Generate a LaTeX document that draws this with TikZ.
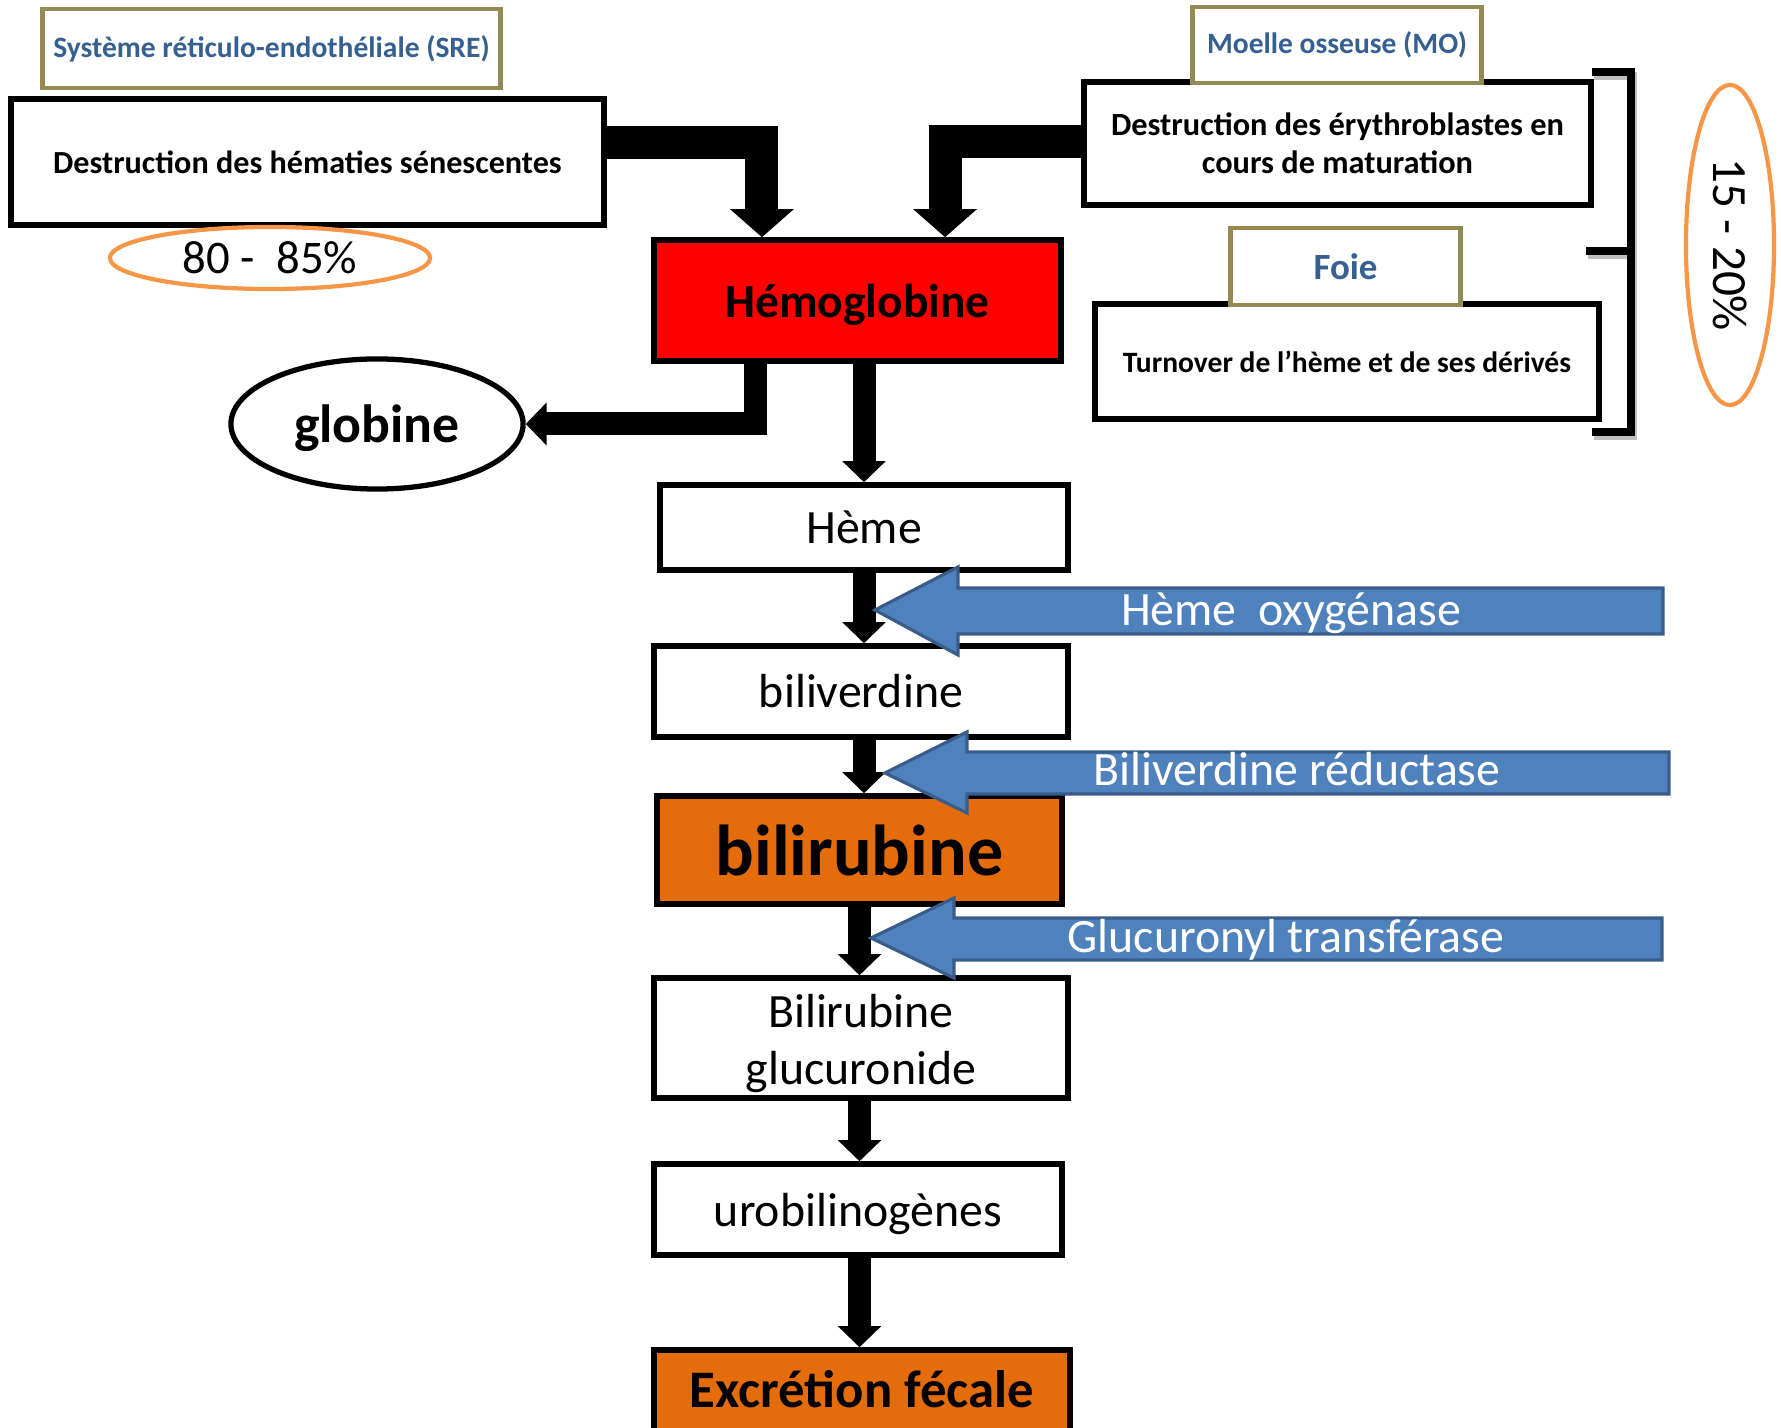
\documentclass[tikz,border=0pt]{standalone}
\usepackage{fontspec}
\setmainfont{Carlito}
\usetikzlibrary{arrows.meta,shapes.geometric}
\definecolor{srccol}{HTML}{948A54}
\definecolor{txtblue}{HTML}{376092}
\definecolor{ellorange}{HTML}{F79646}
\definecolor{boxorange}{HTML}{E46C0A}
\definecolor{enzfill}{HTML}{4F81BD}
\definecolor{enzdraw}{HTML}{385D8A}
\newcommand\chainfont{\fontsize{13.6}{16.4}\selectfont}
\begin{document}
\begin{tikzpicture}[x=0.01cm,y=-0.01cm,
  box/.style={draw=black, line width=1.55pt, fill=white, inner sep=0pt, align=center},
  srcbox/.style={draw=srccol, line width=1.4pt, fill=white, inner sep=0pt, text=txtblue, font=\bfseries\fontsize{8.4}{10}\selectfont},
  pctell/.style={draw=ellorange, line width=1.2pt, ellipse, inner sep=0pt, font=\fontsize{13.3}{16}\selectfont},
  fatarrow/.style={line width=3.3mm, line join=miter, -{Triangle[width=6.2mm,length=2.8mm]}},
  chainarrow/.style={line width=2.3mm, line join=miter, -{Triangle[width=4.2mm,length=2.1mm]}},
  enz/.style={fill=enzfill, draw=enzdraw, line width=0.9pt, line join=miter},
  enztext/.style={text=white, font=\fontsize{13.6}{16}\selectfont, inner sep=0pt, anchor=base},
  brack/.style={line width=2.3pt, line join=miter}
]
\useasboundingbox (0,0) rectangle (1781,1428);

% left side
\node[srcbox, minimum width=4.57cm, minimum height=0.79cm] (sre) at (271.5,48.5) {Système réticulo-endothéliale (SRE)};
\node[box, minimum width=5.93cm, minimum height=1.26cm, font=\bfseries\fontsize{9.15}{11}\selectfont] (desh) at (307.5,162) {Destruction des hématies sénescentes};
\node[pctell, minimum width=3.2cm, minimum height=0.62cm] (p1) at (270,258) {80 -\ \ 85\%};
\node[box, fill=red, minimum width=4.07cm, minimum height=1.21cm, text depth=0pt, font=\bfseries\fontsize{13.5}{16}\selectfont] (hemo) at (857.5,300.5) {Hémoglobine};
\node[draw, ellipse, line width=1.5pt, inner sep=0pt, minimum width=2.92cm, minimum height=1.3cm, text depth=0pt, font=\bfseries\fontsize{15.3}{18}\selectfont] (glob) at (377,424) {globine};

% right side
\node[box, minimum width=5.07cm, minimum height=1.23cm, font=\bfseries\fontsize{9.2}{10.8}\selectfont] (dery) at (1337.5,143.5) {Destruction des érythroblastes en\\cours de maturation};
\node[srcbox, minimum width=2.88cm, minimum height=0.76cm] (mo) at (1337,45) {Moelle osseuse (MO)};
\node[box, minimum width=5.04cm, minimum height=1.15cm, font=\bfseries\fontsize{8.4}{10}\selectfont] (turn) at (1347,361.5) {Turnover de l’hème et de ses dérivés};
\node[srcbox, minimum width=2.29cm, minimum height=0.77cm, font=\bfseries\fontsize{10.5}{12}\selectfont] (foie) at (1345.5,266.5) {Foie};
\node[pctell, rotate=-90, minimum width=3.2cm, minimum height=0.88cm, font=\fontsize{14}{16}\selectfont] (p2) at (1730,245) {15 - 20\%};

% bracket
\draw[brack, black!25] (1594,76) -- (1633,76) -- (1633,436) -- (1594,436);
\draw[brack, black!25] (1588,255) -- (1633,255);
\draw[brack] (1592,72) -- (1631,72) -- (1631,432) -- (1592,432);
\draw[brack] (1586,251) -- (1631,251);

% chain
\node[box, minimum width=4.08cm, minimum height=0.85cm, font=\chainfont] (heme) at (864,527.5) {Hème};
\node[box, minimum width=4.14cm, minimum height=0.91cm, font=\chainfont] (bilv) at (861,691.5) {biliverdine};
\node[box, fill=boxorange, minimum width=4.05cm, minimum height=1.08cm, font=\bfseries\fontsize{20.5}{24}\selectfont] (bilr) at (859.5,850) {bilirubine};
\node[box, minimum width=4.14cm, minimum height=1.2cm, font=\chainfont] (gluc) at (861,1038) {\rule{0pt}{4.4mm}Bilirubine\\glucuronide};
\node[box, minimum width=4.08cm, minimum height=0.91cm, text depth=0pt, font=\chainfont] (uro) at (858,1209.5) {urobilinogènes};
\node[box, fill=boxorange, minimum width=4.16cm, minimum height=0.9cm, text height=4.2mm, text depth=1.8mm, font=\bfseries\fontsize{15}{18}\selectfont] (excr) at (862,1395) {Excrétion fécale};

% connectors
\draw[fatarrow] ([yshift=0.19cm]desh.east) -| ([xshift=-0.955cm]hemo.north);
\draw[fatarrow] ([yshift=0.015cm]dery.west) -| ([xshift=0.875cm]hemo.north);
\draw[chainarrow] ([xshift=-1.015cm]hemo.south) |- (glob.east);
\draw[chainarrow] (hemo.south -| heme.north) -- (heme.north);
\draw[chainarrow] (heme.south) -- (heme.south |- bilv.north);
\draw[chainarrow] (heme.south |- bilv.south) -- (heme.south |- bilr.north);
\draw[chainarrow] (bilr.south) -- (bilr.south |- gluc.north);
\draw[chainarrow] (bilr.south |- gluc.south) -- (bilr.south |- uro.north);
\draw[chainarrow] (bilr.south |- uro.south) -- (bilr.south |- excr.north);

% enzymes
\draw[enz] (875,610) -- (958,567) -- (958,588) -- (1663,588) -- (1663,634) -- (958,634) -- (958,655) -- cycle;
\node[enztext] (e1) at (1291,626) {Hème\ \ oxygénase};
\draw[enz] (885,773) -- (967,732) -- (967,752) -- (1669,752) -- (1669,794) -- (967,794) -- (967,813) -- cycle;
\node[enztext] (e2) at (1297,786) {Biliverdine réductase};
\draw[enz] (871,938) -- (954,898) -- (954,918) -- (1662,918) -- (1662,960) -- (954,960) -- (954,978) -- cycle;
\node[enztext] (e3) at (1286,953) {Glucuronyl transférase};
\end{tikzpicture}
\end{document}
